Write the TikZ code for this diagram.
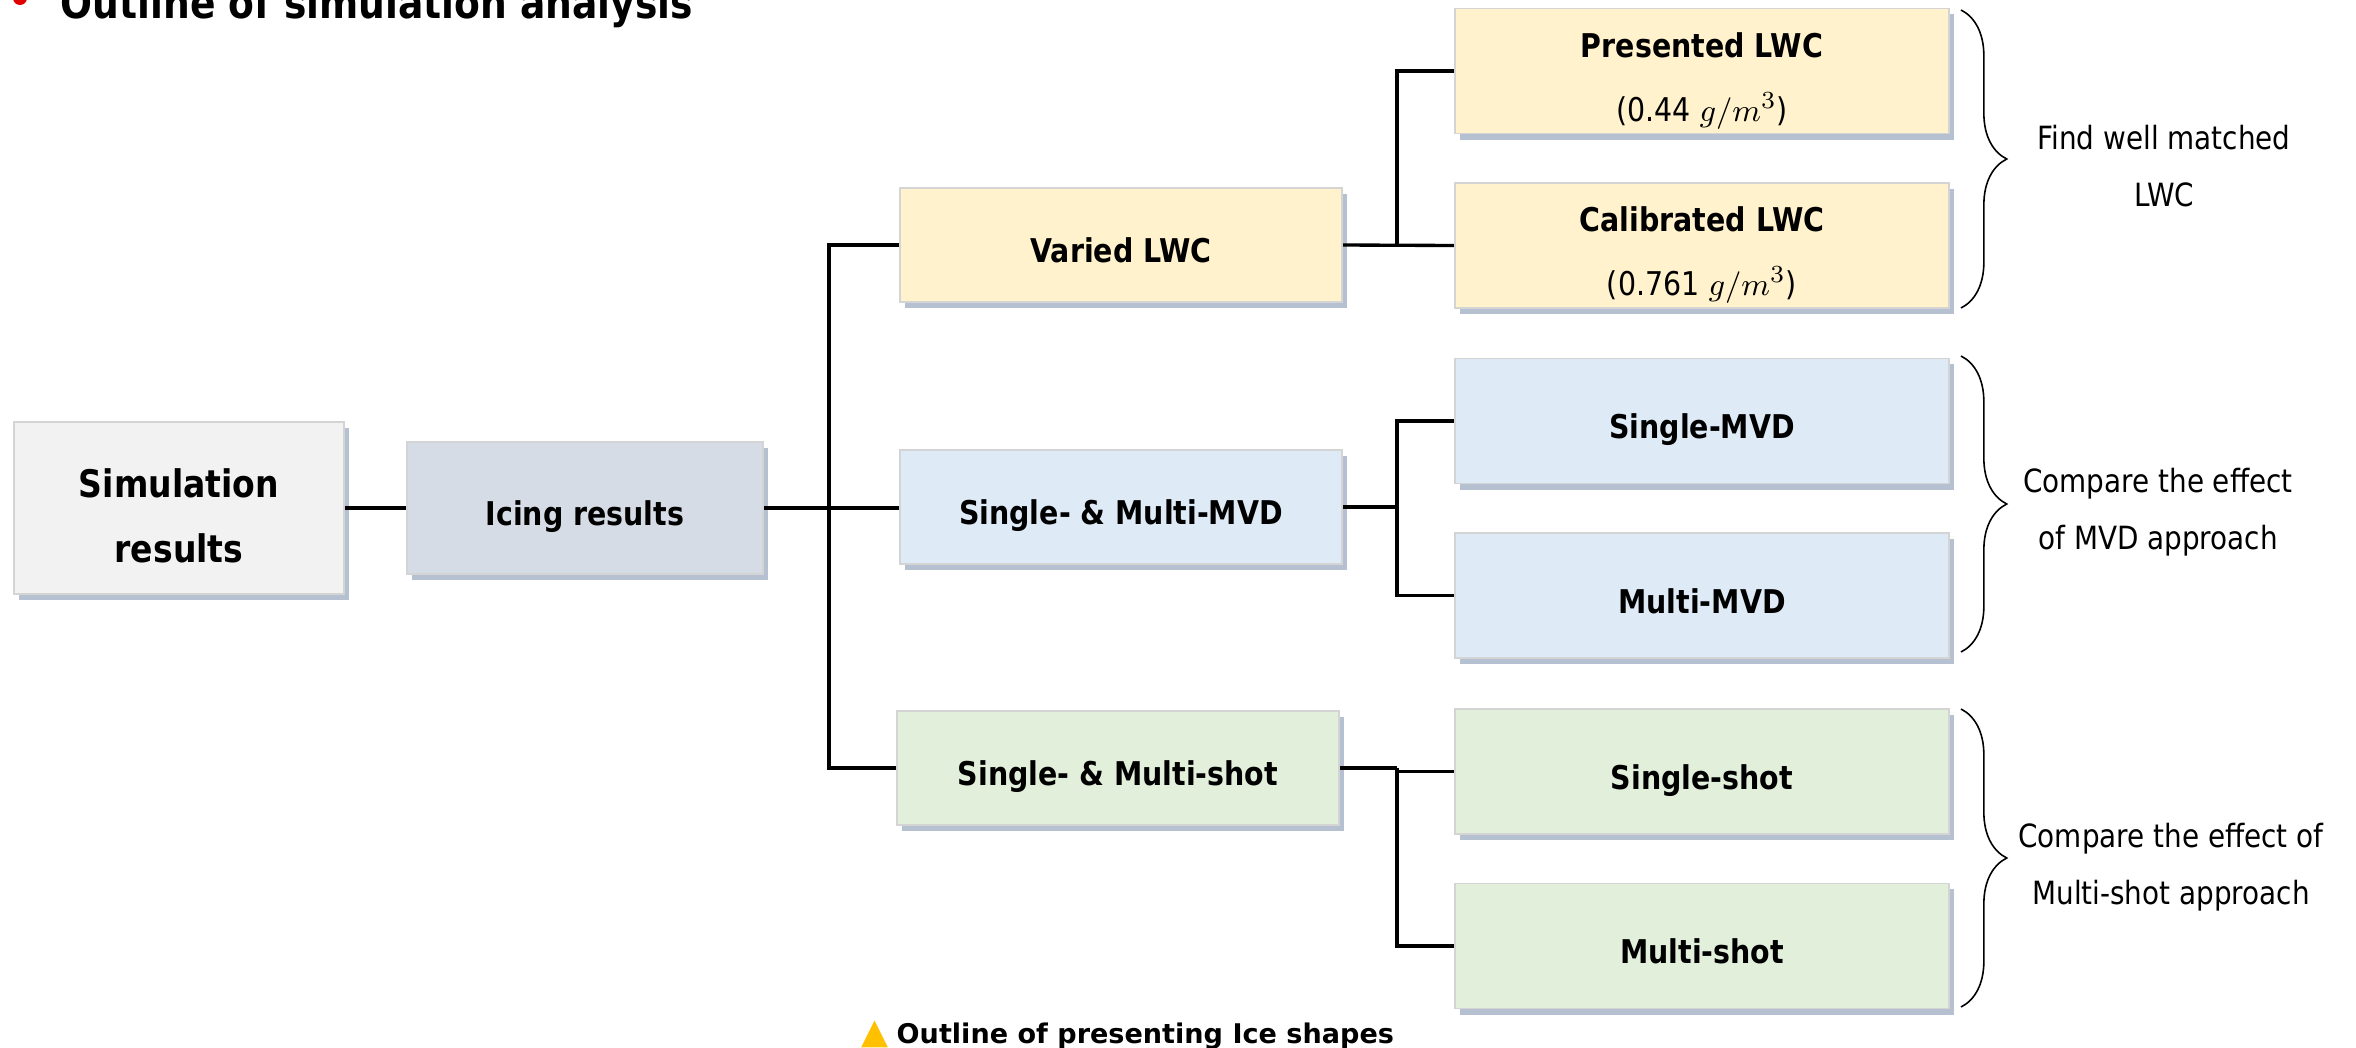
\documentclass[tikz,border=0pt]{standalone}
\usepackage{fontspec}
\setmainfont{DejaVu Sans}[FakeStretch=0.87]
\newfontfamily\symfont{DejaVu Sans}
\usetikzlibrary{shadows,decorations.pathreplacing}
\definecolor{simfill}{HTML}{F2F2F2}
\definecolor{icefill}{HTML}{D6DCE5}
\definecolor{yelfill}{HTML}{FFF2CC}
\definecolor{bluefill}{HTML}{DEEBF7}
\definecolor{grnfill}{HTML}{E2EFDA}
\definecolor{boxline}{HTML}{D4D4D4}
\definecolor{shadc}{HTML}{8496B0}
\definecolor{gold}{HTML}{FFC000}
\definecolor{bulletred}{HTML}{E00000}
\begin{document}
\begin{tikzpicture}[x=0.01cm,y=-0.01cm,
  box/.style={draw=boxline, line width=0.5pt, inner sep=0pt, align=center,
    drop shadow={shadow xshift=1.4pt, shadow yshift=-1.7pt, fill=shadc, opacity=0.6},
    font=\fontsize{9.3}{18.2}\selectfont},
  one/.style={text height=10pt, text depth=0pt, font=\fontsize{9.3}{17.3}\selectfont\bfseries},
  midbox/.style={box, one, minimum width=4.42cm, minimum height=1.14cm},
  rbox/.style={box, minimum width=4.94cm, minimum height=1.25cm},
  conn/.style={line width=0.95pt, black},
  brc/.style={decorate, decoration={brace, amplitude=13pt}, line width=0.45pt},
  desc/.style={align=center, font=\fontsize{9.1}{16.2}\selectfont}]
\path[use as bounding box] (0,0) rectangle (2356,1048);

% title
\fill[bulletred] (20,-2) circle (7);
\node[anchor=base west, inner sep=0pt, font=\bfseries\fontsize{12.3}{14}\selectfont] (title) at (60,18) {Outline of simulation analysis};

% boxes
\node[box, fill=simfill, minimum width=3.30cm, minimum height=1.72cm, font=\fontsize{10.8}{18.5}\selectfont\bfseries] (sim) at (179,508) {\rule{0pt}{12.4pt}Simulation\\results};
\node[box, one, fill=icefill, minimum width=3.56cm, minimum height=1.32cm] (ice) at (585,508) {Icing results};

\node[midbox, fill=yelfill] (varied) at (1121,245) {Varied LWC};
\node[midbox, fill=bluefill] (mvd) at (1121,507) {Single- \& Multi-MVD};
\node[midbox, fill=grnfill] (shot) at (1118,768) {Single- \& Multi-shot};

\node[rbox, fill=yelfill] (pres) at (1702,71) {\rule{0pt}{12.8pt}\textbf{Presented LWC}\\(0.44 $g/m^3$)};
\node[rbox, fill=yelfill] (cal) at (1702,245.5) {\rule{0pt}{12.6pt}\textbf{Calibrated LWC}\\(0.761 $g/m^3$)};
\node[rbox, one, fill=bluefill] (smvd) at (1702,421) {Single-MVD};
\node[rbox, one, fill=bluefill] (mmvd) at (1702,595.5) {Multi-MVD};
\node[rbox, one, fill=grnfill] (sshot) at (1702,771.5) {Single-shot};
\node[rbox, one, fill=grnfill] (mshot) at (1702,946) {Multi-shot};

% junctions
\coordinate (j1) at (829,507);
\coordinate (j2) at (1397,245);
\coordinate (j3) at (1397,507);
\coordinate (j4) at (1397,768);

% connectors
\draw[conn] (sim.east) -- (ice.west);
\draw[conn] (ice.east) -- (ice.east -| mvd.west);
\draw[conn] (varied.west) -| (j1) |- (shot.west);
\draw[conn] (varied.east) -- (cal.west);
\draw[conn] (pres.west) -| (j2);
\draw[conn] (mvd.east) -- (j3);
\draw[conn] (smvd.west) -| (j3) |- (mmvd.west);
\draw[conn] (shot.east) -- (j4);
\draw[conn] (sshot.west) -| (j4) |- (mshot.west);

% braces
\draw[brc] (1961,10) -- (1961,308);
\draw[brc] (1961,356) -- (1961,652);
\draw[brc] (1961,709) -- (1961,1007);

% descriptions
\node[desc] (d1) at (2164,166) {Find well matched\\LWC};
\node[desc] (d2) at (2158,512) {Compare the effect\\of MVD approach};
\node[desc] (d3) at (2171,867) {Compare the effect of\\Multi-shot approach};

% caption
\node[anchor=base east, inner sep=0pt, text=gold, font=\symfont\fontsize{10}{12}\selectfont] (tri) at (889,1043) {▲};
\node[anchor=base west, inner sep=0pt, font=\symfont\bfseries\fontsize{7.7}{10}\selectfont] (cap) at (896,1043) {Outline of presenting Ice shapes};
\end{tikzpicture}
\end{document}
